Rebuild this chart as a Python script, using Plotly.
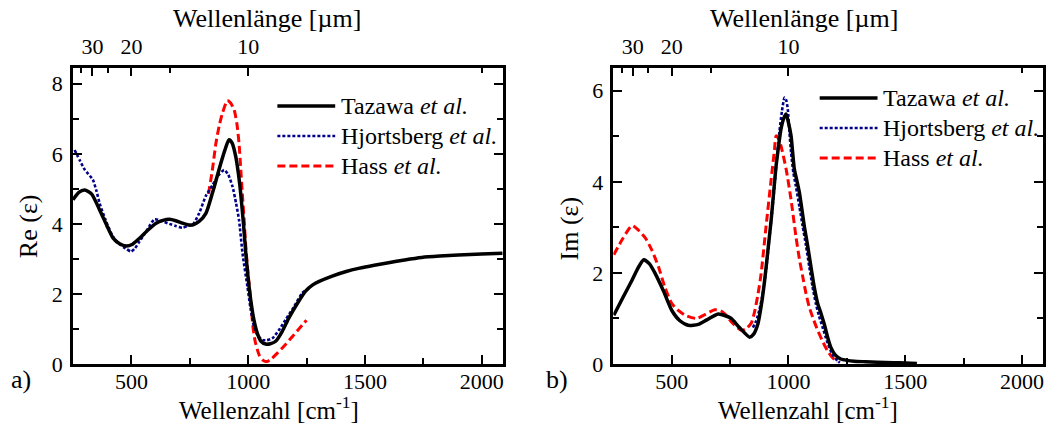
import plotly.graph_objects as go

# ---------------- data ----------------
# Re(eps), Tazawa
re_taz_wn = [250, 275, 300, 330, 364, 395, 421, 450, 478, 505, 535, 570, 606, 635, 663, 690, 719, 745, 762, 790,
             819, 847, 865, 883, 900, 918, 932, 947, 958, 968, 980, 990, 1000, 1011, 1025, 1039, 1055, 1075, 1095,
             1118, 1145, 1174, 1210, 1246, 1275, 1302, 1360, 1420, 1473, 1540, 1601, 1670, 1743, 1820, 1900, 2000, 2090]
re_taz_val = [4.69, 4.9, 4.97, 4.85, 4.4, 3.95, 3.6, 3.43, 3.37, 3.42, 3.59, 3.82, 4.02, 4.1, 4.13, 4.09, 4.02, 3.97,
              3.97, 4.07, 4.3, 4.88, 5.3, 5.73, 6.1, 6.4, 6.3, 5.92, 5.45, 4.88, 4.0, 3.16, 2.45, 1.83, 1.25, 0.88,
              0.65, 0.57, 0.58, 0.65, 0.92, 1.31, 1.72, 2.08, 2.25, 2.35, 2.51, 2.64, 2.73, 2.82, 2.89, 2.97, 3.04,
              3.08, 3.11, 3.14, 3.16]

# Re(eps), Hjortsberg
re_hjo_wn = [257, 280, 300, 335, 350, 364, 390, 421, 450, 475, 499, 515, 535, 565, 599, 630, 663, 690, 719, 745, 762,
             790, 819, 847, 872, 897, 915, 933, 948, 961, 976, 997, 1010, 1025, 1042, 1061, 1080, 1103, 1130, 1160,
             1195, 1231, 1260]
re_hjo_val = [6.11, 5.8, 5.55, 5.26, 4.95, 4.59, 4.1, 3.64, 3.42, 3.3, 3.21, 3.3, 3.5, 3.8, 4.13, 4.08, 4.0, 3.94,
              3.89, 3.95, 3.97, 4.3, 4.8, 5.1, 5.38, 5.54, 5.4, 5.07, 4.6, 4.11, 3.16, 2.21, 1.6, 1.07, 0.8, 0.69,
              0.68, 0.73, 0.95, 1.26, 1.62, 2.02, 2.16]

# Re(eps), Hass
re_has_wn = [830, 846, 862, 876, 890, 911, 925, 940, 952, 961, 968, 975, 983, 990, 1000, 1011, 1020, 1030, 1047,
             1065, 1082, 1100, 1125, 1155, 1189, 1220, 1250]
re_has_val = [4.85, 5.5, 6.3, 6.8, 7.16, 7.52, 7.45, 7.26, 6.85, 6.3, 5.6, 4.88, 4.1, 3.35, 2.55, 1.83, 1.1, 0.65,
              0.26, 0.1, 0.07, 0.15, 0.31, 0.52, 0.78, 1.02, 1.25]

# Im(eps), Tazawa
im_taz_wn = [252, 290, 330, 355, 380, 405, 429, 465, 500, 535, 571, 614, 650, 699, 730, 755, 790, 834, 850, 869,
             884, 898, 912, 926, 937, 947, 958, 968, 980, 990, 1000, 1011, 1025, 1035, 1047, 1068, 1082, 1096, 1110,
             1125, 1140, 1153, 1167, 1181, 1200, 1224, 1250, 1281, 1330, 1380, 1450, 1500, 1550]
im_taz_val = [1.07, 1.45, 1.84, 2.1, 2.29, 2.2, 1.99, 1.6, 1.18, 0.95, 0.85, 0.87, 0.97, 1.1, 1.06, 1.0, 0.8, 0.59,
              0.65, 0.88, 1.3, 1.84, 2.5, 3.17, 3.8, 4.35, 4.8, 5.16, 5.4, 5.49, 5.3, 5.01, 4.28, 4.05, 3.76, 3.02,
              2.6, 2.14, 1.7, 1.33, 1.1, 0.88, 0.6, 0.37, 0.2, 0.11, 0.08, 0.06, 0.05, 0.04, 0.03, 0.02, 0.01]

# Im(eps), Hjortsberg
im_hjo_wn = [848, 862, 876, 890, 905, 919, 930, 940, 950, 961, 972, 983, 990, 997, 1004, 1011, 1021, 1032, 1047,
             1061, 1075, 1089, 1103, 1117, 1131, 1146, 1160, 1174, 1192, 1210, 1220]
im_hjo_val = [0.8, 0.95, 1.2, 1.55, 2.1, 2.8, 3.35, 3.9, 4.5, 5.09, 5.55, 5.85, 5.8, 5.6, 5.1, 4.65, 4.2, 3.9, 3.45,
              3.02, 2.6, 2.14, 1.7, 1.33, 1.05, 0.81, 0.58, 0.37, 0.18, 0.07, 0.03]

# Im(eps), Hass
im_has_wn = [252, 290, 330, 355, 387, 415, 443, 470, 500, 530, 557, 606, 640, 685, 710, 727, 760, 798, 820, 841, 855,
             870, 883, 904, 926, 940, 947, 958, 968, 990, 1011, 1032, 1047, 1061, 1075, 1089, 1107, 1125, 1146, 1167,
             1190, 1210]
im_has_val = [2.4, 2.75, 3.04, 2.95, 2.77, 2.5, 2.14, 1.7, 1.33, 1.17, 1.07, 1.0, 1.08, 1.19, 1.17, 1.1, 0.9, 0.74,
              0.78, 0.9, 1.15, 1.55, 1.99, 3.02, 4.06, 4.7, 5.01, 4.95, 4.79, 4.28, 3.61, 2.8, 2.3, 1.92, 1.55, 1.25,
              0.98, 0.74, 0.5, 0.29, 0.13, 0.04]

series_names = ["Tazawa <i>et al.</i>", "Hjortsberg <i>et al.</i>", "Hass <i>et al.</i>"]
wavelength_major = [30, 20, 10]          # µm, labelled
wavelength_minor = [35, 25, 15, 5]       # µm, unlabelled
wn_ticks = [500, 1000, 1500, 2000]
x_range = [250, 2090]
x_title = "Wellenzahl [cm<sup>-1</sup>]"
top_title = "Wellenlänge [µm]"
y_titles = ["Re (ε)", "Im (ε)"]
panel_labels = ["a)", "b)"]

# ---------------- styling ----------------
FONT = "Liberation Serif"
BLACK = "#000000"
BLUE = "#00008B"
RED = "#FF0000"
styles = [dict(color=BLACK, width=3.5, dash="solid"),
          dict(color=BLUE, width=2.6, dash="3px,2px"),
          dict(color=RED, width=3, dash="8px,4px")]

W, H = 1058, 425
ML, MR, MT, MB = 73, 12, 68, 61
PW = W - ML - MR
PH = H - MT - MB


def px(x):
    return (x - ML) / PW


def py(y):
    return (H - MB - y) / PH


fig = go.Figure()
left_sets = [(re_taz_wn, re_taz_val), (re_hjo_wn, re_hjo_val), (re_has_wn, re_has_val)]
right_sets = [(im_taz_wn, im_taz_val), (im_hjo_wn, im_hjo_val), (im_has_wn, im_has_val)]

order = [2, 1, 0]
for i in order:
    xs, ys = left_sets[i]
    fig.add_trace(go.Scatter(x=xs, y=ys, mode="lines", line=dict(**styles[i], shape="spline", smoothing=0.6),
                             name=series_names[i], showlegend=False, xaxis="x", yaxis="y"))
for i in order:
    xs, ys = right_sets[i]
    fig.add_trace(go.Scatter(x=xs, y=ys, mode="lines", line=dict(**styles[i], shape="spline", smoothing=0.6),
                             name=series_names[i], showlegend=False, xaxis="x2", yaxis="y2"))

# empty traces so that the top (wavelength) axes are created and drawn
fig.add_trace(go.Scatter(x=[], y=[], xaxis="x3", yaxis="y", showlegend=False, hoverinfo="skip"))
fig.add_trace(go.Scatter(x=[], y=[], xaxis="x4", yaxis="y2", showlegend=False, hoverinfo="skip"))

TICK = 22
TITLE = 26
XTITLE = 25
tickfont = dict(family=FONT, size=TICK, color="black")

common_x = dict(range=x_range, tickmode="array", tickvals=wn_ticks, ticks="inside", ticklen=9, tickwidth=2,
                tickcolor="black", showline=True, linewidth=2.5, linecolor="black", showgrid=False, zeroline=False,
                tickfont=tickfont, ticklabelstandoff=-4,
                minor=dict(tickmode="array", tickvals=[750, 1250, 1750], ticks="inside", ticklen=6, tickwidth=2,
                           tickcolor="black"))

wl_major_wn = [1e4 / w for w in wavelength_major]
wl_minor_wn = [1e4 / w for w in wavelength_minor]
common_top = dict(range=x_range, side="top", tickmode="array", tickvals=wl_major_wn,
                  ticktext=[str(w) for w in wavelength_major], ticks="inside", ticklen=8, tickwidth=2,
                  tickcolor="black", showline=True, linewidth=2.5, linecolor="black", showgrid=False,
                  zeroline=False, tickfont=tickfont, ticklabelstandoff=2,
                  minor=dict(tickmode="array", tickvals=wl_minor_wn, ticks="inside", ticklen=5, tickwidth=2,
                             tickcolor="black"))

common_y = dict(ticks="inside", ticklen=9, tickwidth=2, tickcolor="black", showline=True, linewidth=2.5,
                linecolor="black", mirror="ticks", showgrid=False, zeroline=False, tickfont=tickfont,
                ticklabelstandoff=3)

fig.update_layout(
    width=W, height=H, margin=dict(l=ML, r=MR, t=MT, b=MB),
    paper_bgcolor="white", plot_bgcolor="white", showlegend=False,
    font=dict(family=FONT, color="black"),
    xaxis=dict(domain=[0, 431 / PW], anchor="y", **common_x),
    yaxis=dict(domain=[0, 1], anchor="x", range=[0, 8.45], tickmode="array", tickvals=[0, 2, 4, 6, 8],
               minor=dict(tickmode="array", tickvals=[1, 3, 5, 7], ticks="inside", ticklen=6, tickwidth=2,
                          tickcolor="black"), **common_y),
    xaxis2=dict(domain=[542 / PW, 1], anchor="y2", **common_x),
    yaxis2=dict(domain=[0, 1], anchor="x2", range=[0, 6.5], tickmode="array", tickvals=[0, 2, 4, 6],
                minor=dict(tickmode="array", tickvals=[1, 3, 5], ticks="inside", ticklen=6, tickwidth=2,
                           tickcolor="black"), **common_y),
    xaxis3=dict(overlaying="x", anchor="y", **common_top),
    xaxis4=dict(overlaying="x2", anchor="y2", **common_top),
)


def label(x, y, text, size, angle=0, xanchor="center"):
    fig.add_annotation(xref="paper", yref="paper", x=px(x), y=py(y), text=text, showarrow=False,
                       xanchor=xanchor, yanchor="middle", textangle=angle,
                       font=dict(family=FONT, size=size, color="black"))


# axis titles (placed like in the original figure)
label(270, 408, x_title, XTITLE)
label(810, 408, x_title, XTITLE)
label(268, 18, top_title, TITLE)
label(806, 18, top_title, TITLE)
label(28, 226, y_titles[0], TITLE, angle=-90)
label(571, 228, y_titles[1], TITLE, angle=-90)

# panel labels
label(9, 380, panel_labels[0], TITLE, xanchor="left")
label(545, 380, panel_labels[1], TITLE, xanchor="left")

# ---------- custom legends ----------
legend_left = dict(x0=278, x1=336, tx=340, rows=[106, 136, 166])
legend_right = dict(x0=822, x1=880, tx=884, rows=[98, 128, 158])
for leg in (legend_left, legend_right):
    for i, yy in enumerate(leg["rows"]):
        st = styles[i]
        fig.add_shape(type="line", xref="paper", yref="paper", x0=px(leg["x0"]), x1=px(leg["x1"]),
                      y0=py(yy), y1=py(yy), line=dict(color=st["color"], width=st["width"], dash=st["dash"]))
        label(leg["tx"], yy, series_names[i], 24, xanchor="left")

fig.write_html("out.html")
